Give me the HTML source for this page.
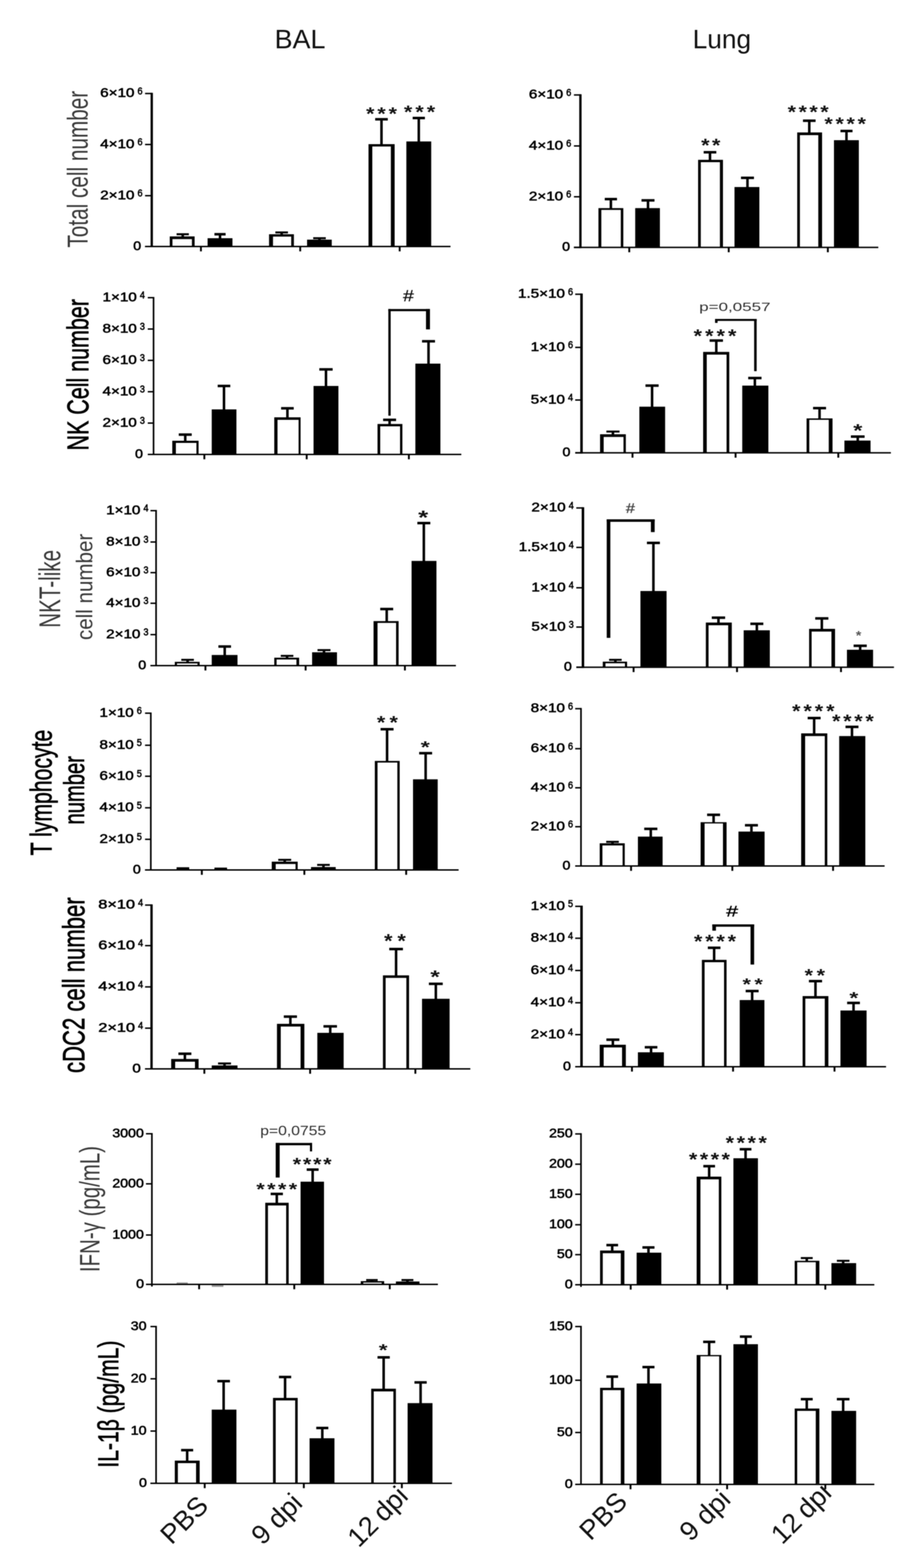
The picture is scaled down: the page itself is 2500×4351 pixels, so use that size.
<!DOCTYPE html>
<html lang="en"><head><meta charset="utf-8"><title>BAL and Lung cell numbers</title>
<style>
html,body{margin:0;padding:0;background:#fff;}
body{width:2500px;height:4351px;overflow:hidden;}
svg{display:block;font-family:'Liberation Sans', sans-serif;filter:blur(1.1px);}
text{white-space:pre;}
</style></head><body>
<svg width="2500" height="4351" viewBox="0 0 2500 4351">
<rect width="2500" height="4351" fill="#fff"/>
<g id="fig">
<text x="762.0" y="134.0" font-size="74.1" font-weight="normal" fill="#111" textLength="141.0" lengthAdjust="spacingAndGlyphs" >BAL</text>
<text x="1922.0" y="134.0" font-size="74.1" font-weight="normal" fill="#111" textLength="162.0" lengthAdjust="spacingAndGlyphs" >Lung</text>
<rect x="490.0" y="647.2" width="34.0" height="5.5" fill="#000"/>
<rect x="503.5" y="650.0" width="7.0" height="7.0" fill="#000"/>
<rect x="471.0" y="656.0" width="69.0" height="28.0" fill="#000"/>
<rect x="478.5" y="663.5" width="54.0" height="20.5" fill="#fff"/>
<rect x="595.0" y="646.5" width="31.0" height="7.0" fill="#000"/>
<rect x="607.0" y="650.0" width="7.0" height="12.0" fill="#000"/>
<rect x="576.0" y="661.0" width="69.0" height="23.0" fill="#000"/>
<rect x="764.0" y="642.2" width="35.0" height="5.5" fill="#000"/>
<rect x="778.0" y="645.0" width="7.0" height="6.0" fill="#000"/>
<rect x="746.5" y="650.0" width="69.0" height="34.0" fill="#000"/>
<rect x="757.5" y="656.5" width="50.5" height="27.5" fill="#fff"/>
<rect x="869.0" y="658.2" width="35.0" height="5.5" fill="#000"/>
<rect x="883.0" y="661.0" width="7.0" height="5.0" fill="#000"/>
<rect x="852.0" y="665.0" width="68.5" height="19.0" fill="#000"/>
<rect x="1041.0" y="327.5" width="35.0" height="7.0" fill="#000"/>
<rect x="1055.0" y="331.0" width="7.0" height="70.0" fill="#000"/>
<rect x="1022.5" y="400.0" width="72.5" height="284.0" fill="#000"/>
<rect x="1033.0" y="406.5" width="51.5" height="277.5" fill="#fff"/>
<rect x="1145.0" y="324.0" width="34.0" height="7.0" fill="#000"/>
<rect x="1158.5" y="327.5" width="7.0" height="66.0" fill="#000"/>
<rect x="1127.5" y="392.5" width="69.0" height="291.5" fill="#000"/>
<rect x="417.8" y="257.5" width="6.5" height="428.5" fill="#000"/>
<rect x="402.5" y="682.0" width="847.5" height="4.0" fill="#000"/>
<rect x="402.5" y="257.5" width="18.5" height="4.0" fill="#000"/>
<text transform="translate(395.5,261.7) scale(0.92,1)" text-anchor="end" font-size="27.5" font-weight="normal" fill="#000" stroke="#000" stroke-width="1.3">6</text>
<text transform="translate(373.1,269.2) scale(1.235,1)" text-anchor="end" font-size="34.2" font-weight="normal" fill="#000" stroke="#000" stroke-width="1.3">6×10</text>
<rect x="402.5" y="399.0" width="18.5" height="4.0" fill="#000"/>
<text transform="translate(395.5,403.2) scale(0.92,1)" text-anchor="end" font-size="27.5" font-weight="normal" fill="#000" stroke="#000" stroke-width="1.3">6</text>
<text transform="translate(373.1,410.7) scale(1.235,1)" text-anchor="end" font-size="34.2" font-weight="normal" fill="#000" stroke="#000" stroke-width="1.3">4×10</text>
<rect x="402.5" y="541.0" width="18.5" height="4.0" fill="#000"/>
<text transform="translate(395.5,545.2) scale(0.92,1)" text-anchor="end" font-size="27.5" font-weight="normal" fill="#000" stroke="#000" stroke-width="1.3">6</text>
<text transform="translate(373.1,552.7) scale(1.235,1)" text-anchor="end" font-size="34.2" font-weight="normal" fill="#000" stroke="#000" stroke-width="1.3">2×10</text>
<rect x="402.5" y="682.0" width="18.5" height="4.0" fill="#000"/>
<text transform="translate(391.6,693.7) scale(1.15,1)" text-anchor="end" font-size="34.2" font-weight="normal" fill="#000" stroke="#000" stroke-width="1.3">0</text>
<rect x="554.9" y="684.0" width="5.2" height="13.5" fill="#000"/>
<rect x="830.4" y="684.0" width="5.2" height="13.5" fill="#000"/>
<rect x="1106.4" y="684.0" width="5.2" height="13.5" fill="#000"/>
<text transform="scale(1.201,1)" x="845.78 871.79 897.80" y="333.2" font-size="49.7" font-weight="bold" fill="#111">***</text>
<text transform="scale(1.201,1)" x="933.18 959.61 986.05" y="328.2" font-size="49.7" font-weight="bold" fill="#111">***</text>
<text transform="translate(242.5,687.0) rotate(-90) scale(1,1.410)" font-size="56.7" font-weight="normal" fill="#3a3a3a" textLength="435.0" lengthAdjust="spacingAndGlyphs">Total cell number</text>
<rect x="496.0" y="1202.5" width="36.0" height="7.0" fill="#000"/>
<rect x="510.5" y="1206.0" width="7.0" height="18.0" fill="#000"/>
<rect x="478.0" y="1223.0" width="73.0" height="38.0" fill="#000"/>
<rect x="488.0" y="1229.0" width="57.0" height="32.0" fill="#fff"/>
<rect x="604.0" y="1067.5" width="35.0" height="7.0" fill="#000"/>
<rect x="618.0" y="1071.0" width="7.0" height="66.0" fill="#000"/>
<rect x="587.5" y="1136.0" width="68.5" height="125.0" fill="#000"/>
<rect x="780.0" y="1129.5" width="35.0" height="7.0" fill="#000"/>
<rect x="794.0" y="1133.0" width="7.0" height="26.0" fill="#000"/>
<rect x="761.0" y="1158.0" width="73.0" height="103.0" fill="#000"/>
<rect x="770.0" y="1165.0" width="58.5" height="96.0" fill="#fff"/>
<rect x="886.0" y="1021.5" width="37.0" height="7.0" fill="#000"/>
<rect x="901.0" y="1025.0" width="7.0" height="47.0" fill="#000"/>
<rect x="870.0" y="1071.0" width="69.0" height="190.0" fill="#000"/>
<rect x="1063.0" y="1161.5" width="36.0" height="7.0" fill="#000"/>
<rect x="1077.5" y="1165.0" width="7.0" height="12.5" fill="#000"/>
<rect x="1047.5" y="1176.5" width="69.0" height="84.5" fill="#000"/>
<rect x="1055.0" y="1183.0" width="55.0" height="78.0" fill="#fff"/>
<rect x="1171.0" y="943.5" width="36.0" height="7.0" fill="#000"/>
<rect x="1185.5" y="947.0" width="7.0" height="63.0" fill="#000"/>
<rect x="1152.5" y="1009.0" width="69.5" height="252.0" fill="#000"/>
<rect x="423.8" y="824.0" width="4.5" height="439.0" fill="#000"/>
<rect x="410.0" y="1259.0" width="870.0" height="4.0" fill="#000"/>
<rect x="410.0" y="824.0" width="16.0" height="4.0" fill="#000"/>
<text transform="translate(402.0,828.2) scale(0.92,1)" text-anchor="end" font-size="27.5" font-weight="normal" fill="#000" stroke="#000" stroke-width="1.3">4</text>
<text transform="translate(379.6,835.7) scale(1.235,1)" text-anchor="end" font-size="34.2" font-weight="normal" fill="#000" stroke="#000" stroke-width="1.3">1×10</text>
<rect x="410.0" y="911.0" width="16.0" height="4.0" fill="#000"/>
<text transform="translate(402.0,915.2) scale(0.92,1)" text-anchor="end" font-size="27.5" font-weight="normal" fill="#000" stroke="#000" stroke-width="1.3">3</text>
<text transform="translate(379.6,922.7) scale(1.235,1)" text-anchor="end" font-size="34.2" font-weight="normal" fill="#000" stroke="#000" stroke-width="1.3">8×10</text>
<rect x="410.0" y="998.0" width="16.0" height="4.0" fill="#000"/>
<text transform="translate(402.0,1002.2) scale(0.92,1)" text-anchor="end" font-size="27.5" font-weight="normal" fill="#000" stroke="#000" stroke-width="1.3">3</text>
<text transform="translate(379.6,1009.7) scale(1.235,1)" text-anchor="end" font-size="34.2" font-weight="normal" fill="#000" stroke="#000" stroke-width="1.3">6×10</text>
<rect x="410.0" y="1085.0" width="16.0" height="4.0" fill="#000"/>
<text transform="translate(402.0,1089.2) scale(0.92,1)" text-anchor="end" font-size="27.5" font-weight="normal" fill="#000" stroke="#000" stroke-width="1.3">3</text>
<text transform="translate(379.6,1096.7) scale(1.235,1)" text-anchor="end" font-size="34.2" font-weight="normal" fill="#000" stroke="#000" stroke-width="1.3">4×10</text>
<rect x="410.0" y="1172.0" width="16.0" height="4.0" fill="#000"/>
<text transform="translate(402.0,1176.2) scale(0.92,1)" text-anchor="end" font-size="27.5" font-weight="normal" fill="#000" stroke="#000" stroke-width="1.3">3</text>
<text transform="translate(379.6,1183.7) scale(1.235,1)" text-anchor="end" font-size="34.2" font-weight="normal" fill="#000" stroke="#000" stroke-width="1.3">2×10</text>
<rect x="410.0" y="1259.0" width="16.0" height="4.0" fill="#000"/>
<text transform="translate(396.6,1270.7) scale(1.15,1)" text-anchor="end" font-size="34.2" font-weight="normal" fill="#000" stroke="#000" stroke-width="1.3">0</text>
<rect x="564.4" y="1261.0" width="5.2" height="13.5" fill="#000"/>
<rect x="848.4" y="1261.0" width="5.2" height="13.5" fill="#000"/>
<rect x="1131.9" y="1261.0" width="5.2" height="13.5" fill="#000"/>
<rect x="1077.5" y="857.5" width="6.5" height="296.0" fill="#000"/>
<rect x="1077.5" y="857.5" width="115.5" height="6.0" fill="#000"/>
<rect x="1182.0" y="857.5" width="11.0" height="56.5" fill="#000"/>
<text x="1117.5" y="836.0" font-size="43.6" font-weight="normal" fill="#111" textLength="30.0" lengthAdjust="spacingAndGlyphs" font-style="italic" stroke="#111" stroke-width="0.6">#</text>
<text transform="translate(245.0,1250.0) rotate(-90) scale(1,1.404)" font-size="59.5" font-weight="normal" fill="#000" stroke="#000" stroke-width="1.2" textLength="420.0" lengthAdjust="spacingAndGlyphs">NK Cell number</text>
<rect x="503.0" y="1828.2" width="35.0" height="5.5" fill="#000"/>
<rect x="517.0" y="1831.0" width="7.0" height="6.5" fill="#000"/>
<rect x="485.0" y="1836.5" width="69.0" height="10.5" fill="#000"/>
<rect x="491.0" y="1841.0" width="57.0" height="6.0" fill="#fff"/>
<rect x="606.0" y="1790.5" width="35.0" height="7.0" fill="#000"/>
<rect x="620.0" y="1794.0" width="7.0" height="24.5" fill="#000"/>
<rect x="587.5" y="1817.5" width="71.5" height="29.5" fill="#000"/>
<rect x="779.0" y="1817.2" width="35.0" height="5.5" fill="#000"/>
<rect x="793.0" y="1820.0" width="7.0" height="6.0" fill="#000"/>
<rect x="761.0" y="1825.0" width="69.0" height="22.0" fill="#000"/>
<rect x="767.5" y="1830.0" width="55.0" height="17.0" fill="#fff"/>
<rect x="881.0" y="1801.2" width="36.0" height="5.5" fill="#000"/>
<rect x="895.5" y="1804.0" width="7.0" height="7.0" fill="#000"/>
<rect x="866.0" y="1810.0" width="69.0" height="37.0" fill="#000"/>
<rect x="1055.0" y="1686.5" width="36.0" height="7.0" fill="#000"/>
<rect x="1069.5" y="1690.0" width="7.0" height="34.5" fill="#000"/>
<rect x="1036.5" y="1723.5" width="69.5" height="123.5" fill="#000"/>
<rect x="1047.5" y="1728.5" width="51.5" height="118.5" fill="#fff"/>
<rect x="1158.0" y="1448.0" width="36.0" height="7.0" fill="#000"/>
<rect x="1172.5" y="1451.5" width="7.0" height="106.0" fill="#000"/>
<rect x="1142.0" y="1556.5" width="69.0" height="290.5" fill="#000"/>
<rect x="430.8" y="1415.0" width="4.5" height="434.0" fill="#000"/>
<rect x="417.5" y="1845.0" width="847.5" height="4.0" fill="#000"/>
<rect x="417.5" y="1415.0" width="15.5" height="4.0" fill="#000"/>
<text transform="translate(412.0,1419.2) scale(0.92,1)" text-anchor="end" font-size="27.5" font-weight="normal" fill="#000" stroke="#000" stroke-width="1.3">4</text>
<text transform="translate(389.6,1426.7) scale(1.235,1)" text-anchor="end" font-size="34.2" font-weight="normal" fill="#000" stroke="#000" stroke-width="1.3">1×10</text>
<rect x="417.5" y="1502.0" width="15.5" height="4.0" fill="#000"/>
<text transform="translate(412.0,1506.2) scale(0.92,1)" text-anchor="end" font-size="27.5" font-weight="normal" fill="#000" stroke="#000" stroke-width="1.3">3</text>
<text transform="translate(389.6,1513.7) scale(1.235,1)" text-anchor="end" font-size="34.2" font-weight="normal" fill="#000" stroke="#000" stroke-width="1.3">8×10</text>
<rect x="417.5" y="1587.0" width="15.5" height="4.0" fill="#000"/>
<text transform="translate(412.0,1591.2) scale(0.92,1)" text-anchor="end" font-size="27.5" font-weight="normal" fill="#000" stroke="#000" stroke-width="1.3">3</text>
<text transform="translate(389.6,1598.7) scale(1.235,1)" text-anchor="end" font-size="34.2" font-weight="normal" fill="#000" stroke="#000" stroke-width="1.3">6×10</text>
<rect x="417.5" y="1672.0" width="15.5" height="4.0" fill="#000"/>
<text transform="translate(412.0,1676.2) scale(0.92,1)" text-anchor="end" font-size="27.5" font-weight="normal" fill="#000" stroke="#000" stroke-width="1.3">3</text>
<text transform="translate(389.6,1683.7) scale(1.235,1)" text-anchor="end" font-size="34.2" font-weight="normal" fill="#000" stroke="#000" stroke-width="1.3">4×10</text>
<rect x="417.5" y="1759.0" width="15.5" height="4.0" fill="#000"/>
<text transform="translate(412.0,1763.2) scale(0.92,1)" text-anchor="end" font-size="27.5" font-weight="normal" fill="#000" stroke="#000" stroke-width="1.3">3</text>
<text transform="translate(389.6,1770.7) scale(1.235,1)" text-anchor="end" font-size="34.2" font-weight="normal" fill="#000" stroke="#000" stroke-width="1.3">2×10</text>
<rect x="417.5" y="1845.0" width="15.5" height="4.0" fill="#000"/>
<text transform="translate(405.6,1856.7) scale(1.15,1)" text-anchor="end" font-size="34.2" font-weight="normal" fill="#000" stroke="#000" stroke-width="1.3">0</text>
<rect x="567.4" y="1847.0" width="5.2" height="13.5" fill="#000"/>
<rect x="845.4" y="1847.0" width="5.2" height="13.5" fill="#000"/>
<rect x="1120.9" y="1847.0" width="5.2" height="13.5" fill="#000"/>
<text transform="scale(1.329,1)" x="873.12" y="1454.5" font-size="53.8" font-weight="bold" fill="#111">*</text>
<text transform="translate(167.0,1742.0) rotate(-90) scale(1,1.470)" font-size="56.3" font-weight="normal" fill="#3a3a3a" textLength="216.0" lengthAdjust="spacingAndGlyphs">NKT-like</text>
<text transform="translate(256.0,1776.0) rotate(-90) scale(1,1.095)" font-size="57.1" font-weight="normal" fill="#3a3a3a" textLength="295.0" lengthAdjust="spacingAndGlyphs">cell number</text>
<rect x="490.0" y="2406.5" width="35.0" height="7.0" fill="#000"/>
<rect x="595.0" y="2407.5" width="35.0" height="7.0" fill="#000"/>
<rect x="772.0" y="2383.2" width="36.0" height="5.5" fill="#000"/>
<rect x="786.5" y="2386.0" width="7.0" height="6.0" fill="#000"/>
<rect x="754.0" y="2391.0" width="72.0" height="23.0" fill="#000"/>
<rect x="765.0" y="2397.5" width="55.0" height="16.5" fill="#fff"/>
<rect x="880.0" y="2397.2" width="35.0" height="5.5" fill="#000"/>
<rect x="894.0" y="2400.0" width="7.0" height="7.0" fill="#000"/>
<rect x="863.0" y="2406.0" width="68.5" height="8.0" fill="#000"/>
<rect x="1056.0" y="2020.0" width="36.0" height="7.0" fill="#000"/>
<rect x="1070.5" y="2023.5" width="7.0" height="89.0" fill="#000"/>
<rect x="1040.0" y="2111.5" width="69.0" height="302.5" fill="#000"/>
<rect x="1047.5" y="2116.0" width="55.0" height="298.0" fill="#fff"/>
<rect x="1163.0" y="2086.5" width="36.0" height="7.0" fill="#000"/>
<rect x="1177.5" y="2090.0" width="7.0" height="73.5" fill="#000"/>
<rect x="1146.0" y="2162.5" width="68.5" height="251.5" fill="#000"/>
<rect x="416.2" y="1977.0" width="4.5" height="439.0" fill="#000"/>
<rect x="402.5" y="2412.0" width="870.0" height="4.0" fill="#000"/>
<rect x="402.5" y="1977.0" width="16.0" height="4.0" fill="#000"/>
<text transform="translate(393.5,1981.2) scale(0.92,1)" text-anchor="end" font-size="27.5" font-weight="normal" fill="#000" stroke="#000" stroke-width="1.3">6</text>
<text transform="translate(371.1,1988.7) scale(1.235,1)" text-anchor="end" font-size="34.2" font-weight="normal" fill="#000" stroke="#000" stroke-width="1.3">1×10</text>
<rect x="402.5" y="2066.0" width="16.0" height="4.0" fill="#000"/>
<text transform="translate(393.5,2070.2) scale(0.92,1)" text-anchor="end" font-size="27.5" font-weight="normal" fill="#000" stroke="#000" stroke-width="1.3">5</text>
<text transform="translate(371.1,2077.7) scale(1.235,1)" text-anchor="end" font-size="34.2" font-weight="normal" fill="#000" stroke="#000" stroke-width="1.3">8×10</text>
<rect x="402.5" y="2152.0" width="16.0" height="4.0" fill="#000"/>
<text transform="translate(393.5,2156.2) scale(0.92,1)" text-anchor="end" font-size="27.5" font-weight="normal" fill="#000" stroke="#000" stroke-width="1.3">5</text>
<text transform="translate(371.1,2163.7) scale(1.235,1)" text-anchor="end" font-size="34.2" font-weight="normal" fill="#000" stroke="#000" stroke-width="1.3">6×10</text>
<rect x="402.5" y="2239.5" width="16.0" height="4.0" fill="#000"/>
<text transform="translate(393.5,2243.7) scale(0.92,1)" text-anchor="end" font-size="27.5" font-weight="normal" fill="#000" stroke="#000" stroke-width="1.3">5</text>
<text transform="translate(371.1,2251.2) scale(1.235,1)" text-anchor="end" font-size="34.2" font-weight="normal" fill="#000" stroke="#000" stroke-width="1.3">4×10</text>
<rect x="402.5" y="2327.0" width="16.0" height="4.0" fill="#000"/>
<text transform="translate(393.5,2331.2) scale(0.92,1)" text-anchor="end" font-size="27.5" font-weight="normal" fill="#000" stroke="#000" stroke-width="1.3">5</text>
<text transform="translate(371.1,2338.7) scale(1.235,1)" text-anchor="end" font-size="34.2" font-weight="normal" fill="#000" stroke="#000" stroke-width="1.3">2×10</text>
<rect x="402.5" y="2412.0" width="16.0" height="4.0" fill="#000"/>
<text transform="translate(390.6,2423.7) scale(1.15,1)" text-anchor="end" font-size="34.2" font-weight="normal" fill="#000" stroke="#000" stroke-width="1.3">0</text>
<rect x="557.4" y="2414.0" width="5.2" height="13.5" fill="#000"/>
<rect x="841.9" y="2414.0" width="5.2" height="13.5" fill="#000"/>
<rect x="1124.4" y="2414.0" width="5.2" height="13.5" fill="#000"/>
<text transform="scale(1.201,1)" x="870.75 899.89" y="2021.7" font-size="49.7" font-weight="bold" fill="#111">**</text>
<text transform="scale(1.380,1)" x="845.81" y="2088.9" font-size="47.0" font-weight="bold" fill="#111">*</text>
<text transform="translate(143.0,2373.5) rotate(-90) scale(1,1.438)" font-size="58.6" font-weight="normal" fill="#000" stroke="#000" stroke-width="1.2" textLength="348.5" lengthAdjust="spacingAndGlyphs">T lymphocyte</text>
<text transform="translate(233.0,2288.0) rotate(-90) scale(1,1.427)" font-size="56.0" font-weight="normal" fill="#000" stroke="#000" stroke-width="1.2" textLength="190.0" lengthAdjust="spacingAndGlyphs">number</text>
<rect x="495.0" y="2920.5" width="36.0" height="7.0" fill="#000"/>
<rect x="509.5" y="2924.0" width="7.0" height="15.5" fill="#000"/>
<rect x="475.0" y="2938.5" width="76.0" height="27.5" fill="#000"/>
<rect x="486.0" y="2946.0" width="55.0" height="20.0" fill="#fff"/>
<rect x="605.0" y="2948.2" width="36.0" height="5.5" fill="#000"/>
<rect x="619.5" y="2951.0" width="7.0" height="6.5" fill="#000"/>
<rect x="587.5" y="2956.5" width="71.5" height="9.5" fill="#000"/>
<rect x="787.5" y="2817.5" width="36.5" height="7.0" fill="#000"/>
<rect x="802.2" y="2821.0" width="7.0" height="21.0" fill="#000"/>
<rect x="768.5" y="2841.0" width="76.0" height="125.0" fill="#000"/>
<rect x="779.0" y="2848.5" width="55.0" height="117.5" fill="#fff"/>
<rect x="897.5" y="2844.5" width="37.5" height="7.0" fill="#000"/>
<rect x="912.8" y="2848.0" width="7.0" height="19.0" fill="#000"/>
<rect x="880.5" y="2866.0" width="73.0" height="100.0" fill="#000"/>
<rect x="1080.0" y="2630.0" width="38.0" height="7.0" fill="#000"/>
<rect x="1095.5" y="2633.5" width="7.0" height="74.0" fill="#000"/>
<rect x="1062.5" y="2706.5" width="72.5" height="259.5" fill="#000"/>
<rect x="1070.0" y="2713.5" width="57.5" height="252.5" fill="#fff"/>
<rect x="1190.0" y="2726.5" width="38.5" height="7.0" fill="#000"/>
<rect x="1205.8" y="2730.0" width="7.0" height="42.5" fill="#000"/>
<rect x="1171.0" y="2771.5" width="76.5" height="194.5" fill="#000"/>
<rect x="417.2" y="2509.5" width="6.5" height="458.5" fill="#000"/>
<rect x="402.5" y="2964.0" width="902.5" height="4.0" fill="#000"/>
<rect x="402.5" y="2509.5" width="18.0" height="4.0" fill="#000"/>
<text transform="translate(397.0,2513.7) scale(0.92,1)" text-anchor="end" font-size="27.5" font-weight="normal" fill="#000" stroke="#000" stroke-width="1.3">4</text>
<text transform="translate(374.6,2521.2) scale(1.3214500000000002,1)" text-anchor="end" font-size="34.2" font-weight="normal" fill="#000" stroke="#000" stroke-width="1.3">8×10</text>
<rect x="402.5" y="2622.0" width="18.0" height="4.0" fill="#000"/>
<text transform="translate(397.0,2626.2) scale(0.92,1)" text-anchor="end" font-size="27.5" font-weight="normal" fill="#000" stroke="#000" stroke-width="1.3">4</text>
<text transform="translate(374.6,2633.7) scale(1.3214500000000002,1)" text-anchor="end" font-size="34.2" font-weight="normal" fill="#000" stroke="#000" stroke-width="1.3">6×10</text>
<rect x="402.5" y="2736.5" width="18.0" height="4.0" fill="#000"/>
<text transform="translate(397.0,2740.7) scale(0.92,1)" text-anchor="end" font-size="27.5" font-weight="normal" fill="#000" stroke="#000" stroke-width="1.3">4</text>
<text transform="translate(374.6,2748.2) scale(1.3214500000000002,1)" text-anchor="end" font-size="34.2" font-weight="normal" fill="#000" stroke="#000" stroke-width="1.3">4×10</text>
<rect x="402.5" y="2851.0" width="18.0" height="4.0" fill="#000"/>
<text transform="translate(397.0,2855.2) scale(0.92,1)" text-anchor="end" font-size="27.5" font-weight="normal" fill="#000" stroke="#000" stroke-width="1.3">4</text>
<text transform="translate(374.6,2862.7) scale(1.3214500000000002,1)" text-anchor="end" font-size="34.2" font-weight="normal" fill="#000" stroke="#000" stroke-width="1.3">2×10</text>
<rect x="402.5" y="2964.0" width="18.0" height="4.0" fill="#000"/>
<text transform="translate(390.6,2975.7) scale(1.2305,1)" text-anchor="end" font-size="34.2" font-weight="normal" fill="#000" stroke="#000" stroke-width="1.3">0</text>
<rect x="564.4" y="2966.0" width="5.2" height="13.5" fill="#000"/>
<rect x="857.9" y="2966.0" width="5.2" height="13.5" fill="#000"/>
<rect x="1149.9" y="2966.0" width="5.2" height="13.5" fill="#000"/>
<text transform="scale(1.111,1)" x="959.35 992.65" y="2629.5" font-size="53.8" font-weight="bold" fill="#111">**</text>
<text transform="scale(1.358,1)" x="879.27" y="2728.2" font-size="49.7" font-weight="bold" fill="#111">*</text>
<text transform="translate(234.0,2977.5) rotate(-90) scale(1,1.398)" font-size="61.3" font-weight="normal" fill="#000" stroke="#000" stroke-width="1.2" textLength="487.5" lengthAdjust="spacingAndGlyphs">cDC2 cell number</text>
<rect x="490.0" y="3558.5" width="31.0" height="7.0" fill="#999"/>
<rect x="587.5" y="3564.0" width="32.5" height="7.0" fill="#999"/>
<rect x="751.0" y="3309.5" width="34.0" height="7.0" fill="#000"/>
<rect x="764.5" y="3313.0" width="7.0" height="25.5" fill="#000"/>
<rect x="736.0" y="3337.5" width="65.0" height="226.5" fill="#000"/>
<rect x="743.5" y="3345.0" width="50.5" height="219.0" fill="#fff"/>
<rect x="851.0" y="3242.0" width="33.0" height="7.0" fill="#000"/>
<rect x="864.0" y="3245.5" width="7.0" height="34.5" fill="#000"/>
<rect x="834.0" y="3279.0" width="65.0" height="285.0" fill="#000"/>
<rect x="1016.0" y="3549.2" width="32.0" height="5.5" fill="#000"/>
<rect x="1028.5" y="3552.0" width="7.0" height="4.0" fill="#000"/>
<rect x="1001.0" y="3555.0" width="65.0" height="9.0" fill="#000"/>
<rect x="1008.0" y="3559.0" width="51.0" height="5.0" fill="#fff"/>
<rect x="1114.0" y="3549.2" width="33.0" height="5.5" fill="#000"/>
<rect x="1127.0" y="3552.0" width="7.0" height="5.0" fill="#000"/>
<rect x="1098.5" y="3556.0" width="65.5" height="8.0" fill="#000"/>
<rect x="419.2" y="3144.0" width="4.5" height="426.0" fill="#000"/>
<rect x="405.0" y="3562.0" width="810.0" height="4.0" fill="#000"/>
<rect x="405.0" y="3144.0" width="16.5" height="4.0" fill="#000"/>
<text transform="translate(399.1,3155.7) scale(1.15,1)" text-anchor="end" font-size="34.2" font-weight="normal" fill="#000" stroke="#000" stroke-width="1.3">3000</text>
<rect x="405.0" y="3283.0" width="16.5" height="4.0" fill="#000"/>
<text transform="translate(399.1,3294.7) scale(1.15,1)" text-anchor="end" font-size="34.2" font-weight="normal" fill="#000" stroke="#000" stroke-width="1.3">2000</text>
<rect x="405.0" y="3425.0" width="16.5" height="4.0" fill="#000"/>
<text transform="translate(399.1,3436.7) scale(1.15,1)" text-anchor="end" font-size="34.2" font-weight="normal" fill="#000" stroke="#000" stroke-width="1.3">1000</text>
<rect x="405.0" y="3562.0" width="16.5" height="4.0" fill="#000"/>
<text transform="translate(399.6,3573.7) scale(1.15,1)" text-anchor="end" font-size="34.2" font-weight="normal" fill="#000" stroke="#000" stroke-width="1.3">0</text>
<rect x="549.9" y="3564.0" width="5.2" height="13.5" fill="#000"/>
<rect x="813.9" y="3564.0" width="5.2" height="13.5" fill="#000"/>
<rect x="1078.9" y="3564.0" width="5.2" height="13.5" fill="#000"/>
<text transform="scale(1.235,1)" x="575.88 600.18 624.48 648.78" y="3315.8" font-size="48.4" font-weight="bold" fill="#111">****</text>
<text transform="scale(1.201,1)" x="676.37 699.82 723.27 746.71" y="3248.2" font-size="49.7" font-weight="bold" fill="#111">****</text>
<rect x="765.0" y="3171.5" width="11.0" height="96.0" fill="#000"/>
<rect x="765.0" y="3171.5" width="101.0" height="6.5" fill="#000"/>
<rect x="860.0" y="3171.5" width="6.0" height="23.5" fill="#000"/>
<text x="722.0" y="3150.0" font-size="36.3" font-weight="normal" fill="#333" textLength="183.0" lengthAdjust="spacingAndGlyphs" >p=0,0755</text>
<text transform="translate(276.0,3530.0) rotate(-90) scale(1,1.370)" font-size="56.8" font-weight="normal" fill="#3a3a3a" textLength="350.0" lengthAdjust="spacingAndGlyphs">IFN-γ (pg/mL)</text>
<rect x="502.5" y="4020.5" width="33.5" height="7.0" fill="#000"/>
<rect x="515.8" y="4024.0" width="7.0" height="30.0" fill="#000"/>
<rect x="485.0" y="4053.0" width="69.0" height="63.0" fill="#000"/>
<rect x="493.5" y="4060.0" width="50.5" height="56.0" fill="#fff"/>
<rect x="603.0" y="3829.0" width="35.0" height="7.0" fill="#000"/>
<rect x="617.0" y="3832.5" width="7.0" height="80.0" fill="#000"/>
<rect x="587.5" y="3911.5" width="68.5" height="204.5" fill="#000"/>
<rect x="774.0" y="3817.5" width="34.0" height="7.0" fill="#000"/>
<rect x="787.5" y="3821.0" width="7.0" height="59.0" fill="#000"/>
<rect x="757.5" y="3879.0" width="68.5" height="237.0" fill="#000"/>
<rect x="765.0" y="3886.0" width="54.0" height="230.0" fill="#fff"/>
<rect x="877.5" y="3959.0" width="33.5" height="7.0" fill="#000"/>
<rect x="890.8" y="3962.5" width="7.0" height="29.5" fill="#000"/>
<rect x="859.0" y="3991.0" width="69.0" height="125.0" fill="#000"/>
<rect x="1047.5" y="3763.0" width="34.0" height="7.0" fill="#000"/>
<rect x="1061.0" y="3766.5" width="7.0" height="88.0" fill="#000"/>
<rect x="1030.0" y="3853.5" width="68.5" height="262.5" fill="#000"/>
<rect x="1037.0" y="3861.0" width="54.5" height="255.0" fill="#fff"/>
<rect x="1150.0" y="3832.5" width="34.0" height="7.0" fill="#000"/>
<rect x="1163.5" y="3836.0" width="7.0" height="58.5" fill="#000"/>
<rect x="1131.0" y="3893.5" width="69.0" height="222.5" fill="#000"/>
<rect x="430.8" y="3679.0" width="4.5" height="439.0" fill="#000"/>
<rect x="417.5" y="4114.0" width="836.5" height="4.0" fill="#000"/>
<rect x="417.5" y="3679.0" width="15.5" height="4.0" fill="#000"/>
<text transform="translate(406.6,3690.7) scale(1.15,1)" text-anchor="end" font-size="34.2" font-weight="normal" fill="#000" stroke="#000" stroke-width="1.3">30</text>
<rect x="417.5" y="3824.0" width="15.5" height="4.0" fill="#000"/>
<text transform="translate(406.6,3835.7) scale(1.15,1)" text-anchor="end" font-size="34.2" font-weight="normal" fill="#000" stroke="#000" stroke-width="1.3">20</text>
<rect x="417.5" y="3969.0" width="15.5" height="4.0" fill="#000"/>
<text transform="translate(406.6,3980.7) scale(1.15,1)" text-anchor="end" font-size="34.2" font-weight="normal" fill="#000" stroke="#000" stroke-width="1.3">10</text>
<rect x="417.5" y="4114.0" width="15.5" height="4.0" fill="#000"/>
<text transform="translate(407.6,4125.7) scale(1.15,1)" text-anchor="end" font-size="34.2" font-weight="normal" fill="#000" stroke="#000" stroke-width="1.3">0</text>
<rect x="565.4" y="4116.0" width="5.2" height="13.5" fill="#000"/>
<rect x="840.4" y="4116.0" width="5.2" height="13.5" fill="#000"/>
<rect x="1112.4" y="4116.0" width="5.2" height="13.5" fill="#000"/>
<text transform="scale(1.325,1)" x="793.14" y="3762.4" font-size="47.0" font-weight="bold" fill="#111">*</text>
<text transform="translate(327.5,4072.5) rotate(-90) scale(1,1.366)" font-size="58.5" font-weight="normal" fill="#000" stroke="#000" stroke-width="1.2" textLength="352.5" lengthAdjust="spacingAndGlyphs">IL-1β (pg/mL)</text>
<rect x="1678.0" y="549.0" width="34.0" height="7.0" fill="#000"/>
<rect x="1691.5" y="552.5" width="7.0" height="26.0" fill="#000"/>
<rect x="1660.5" y="577.5" width="69.0" height="109.0" fill="#000"/>
<rect x="1668.5" y="582.5" width="54.0" height="104.0" fill="#fff"/>
<rect x="1780.0" y="552.5" width="36.0" height="7.0" fill="#000"/>
<rect x="1794.5" y="556.0" width="7.0" height="22.5" fill="#000"/>
<rect x="1762.5" y="577.5" width="68.5" height="109.0" fill="#000"/>
<rect x="1952.5" y="419.0" width="35.0" height="7.0" fill="#000"/>
<rect x="1966.5" y="422.5" width="7.0" height="22.0" fill="#000"/>
<rect x="1937.0" y="443.5" width="69.0" height="243.0" fill="#000"/>
<rect x="1944.5" y="450.0" width="53.0" height="236.5" fill="#fff"/>
<rect x="2056.0" y="490.0" width="36.0" height="7.0" fill="#000"/>
<rect x="2070.5" y="493.5" width="7.0" height="26.5" fill="#000"/>
<rect x="2038.0" y="519.0" width="69.0" height="167.5" fill="#000"/>
<rect x="2228.0" y="331.5" width="35.0" height="7.0" fill="#000"/>
<rect x="2242.0" y="335.0" width="7.0" height="33.5" fill="#000"/>
<rect x="2212.0" y="367.5" width="69.0" height="319.0" fill="#000"/>
<rect x="2219.5" y="375.0" width="51.0" height="311.5" fill="#fff"/>
<rect x="2332.0" y="360.0" width="33.5" height="7.0" fill="#000"/>
<rect x="2345.2" y="363.5" width="7.0" height="26.5" fill="#000"/>
<rect x="2314.0" y="389.0" width="69.0" height="297.5" fill="#000"/>
<rect x="1607.2" y="261.5" width="6.5" height="427.0" fill="#000"/>
<rect x="1592.5" y="684.5" width="844.5" height="4.0" fill="#000"/>
<rect x="1592.5" y="261.5" width="18.0" height="4.0" fill="#000"/>
<text transform="translate(1585.0,265.7) scale(0.92,1)" text-anchor="end" font-size="27.5" font-weight="normal" fill="#000" stroke="#000" stroke-width="1.3">6</text>
<text transform="translate(1562.6,273.2) scale(1.235,1)" text-anchor="end" font-size="34.2" font-weight="normal" fill="#000" stroke="#000" stroke-width="1.3">6×10</text>
<rect x="1592.5" y="403.0" width="18.0" height="4.0" fill="#000"/>
<text transform="translate(1585.0,407.2) scale(0.92,1)" text-anchor="end" font-size="27.5" font-weight="normal" fill="#000" stroke="#000" stroke-width="1.3">6</text>
<text transform="translate(1562.6,414.7) scale(1.235,1)" text-anchor="end" font-size="34.2" font-weight="normal" fill="#000" stroke="#000" stroke-width="1.3">4×10</text>
<rect x="1592.5" y="544.0" width="18.0" height="4.0" fill="#000"/>
<text transform="translate(1585.0,548.2) scale(0.92,1)" text-anchor="end" font-size="27.5" font-weight="normal" fill="#000" stroke="#000" stroke-width="1.3">6</text>
<text transform="translate(1562.6,555.7) scale(1.235,1)" text-anchor="end" font-size="34.2" font-weight="normal" fill="#000" stroke="#000" stroke-width="1.3">2×10</text>
<rect x="1592.5" y="684.5" width="18.0" height="4.0" fill="#000"/>
<text transform="translate(1581.6,696.2) scale(1.15,1)" text-anchor="end" font-size="34.2" font-weight="normal" fill="#000" stroke="#000" stroke-width="1.3">0</text>
<rect x="1743.4" y="686.5" width="5.2" height="13.5" fill="#000"/>
<rect x="2019.4" y="686.5" width="5.2" height="13.5" fill="#000"/>
<rect x="2294.4" y="686.5" width="5.2" height="13.5" fill="#000"/>
<text transform="scale(1.170,1)" x="1662.89 1688.54" y="420.6" font-size="51.1" font-weight="bold" fill="#111">**</text>
<text transform="scale(1.201,1)" x="1819.75 1844.86 1869.98 1895.09" y="328.2" font-size="49.7" font-weight="bold" fill="#111">****</text>
<text transform="scale(1.201,1)" x="1904.66 1930.19 1955.72 1981.25" y="360.7" font-size="49.7" font-weight="bold" fill="#111">****</text>
<rect x="1682.5" y="1194.8" width="36.5" height="5.5" fill="#000"/>
<rect x="1697.2" y="1197.5" width="7.0" height="8.5" fill="#000"/>
<rect x="1665.0" y="1205.0" width="71.5" height="51.5" fill="#000"/>
<rect x="1675.0" y="1212.5" width="55.0" height="44.0" fill="#fff"/>
<rect x="1791.0" y="1066.5" width="36.5" height="7.0" fill="#000"/>
<rect x="1805.8" y="1070.0" width="7.0" height="59.5" fill="#000"/>
<rect x="1774.0" y="1128.5" width="71.5" height="128.0" fill="#000"/>
<rect x="1969.0" y="941.5" width="37.0" height="7.0" fill="#000"/>
<rect x="1984.0" y="945.0" width="7.0" height="32.5" fill="#000"/>
<rect x="1951.0" y="976.5" width="72.5" height="280.0" fill="#000"/>
<rect x="1961.0" y="984.0" width="55.0" height="272.5" fill="#fff"/>
<rect x="2076.0" y="1045.5" width="37.0" height="7.0" fill="#000"/>
<rect x="2091.0" y="1049.0" width="7.0" height="22.0" fill="#000"/>
<rect x="2059.5" y="1070.0" width="72.5" height="186.5" fill="#000"/>
<rect x="2256.0" y="1129.0" width="36.0" height="7.0" fill="#000"/>
<rect x="2270.5" y="1132.5" width="7.0" height="29.5" fill="#000"/>
<rect x="2238.0" y="1161.0" width="72.0" height="95.5" fill="#000"/>
<rect x="2245.5" y="1165.0" width="54.0" height="91.5" fill="#fff"/>
<rect x="2361.0" y="1208.0" width="38.0" height="7.0" fill="#000"/>
<rect x="2376.5" y="1211.5" width="7.0" height="12.0" fill="#000"/>
<rect x="2343.0" y="1222.5" width="72.5" height="34.0" fill="#000"/>
<rect x="1610.0" y="814.5" width="7.0" height="444.0" fill="#000"/>
<rect x="1596.0" y="1254.5" width="876.0" height="4.0" fill="#000"/>
<rect x="1596.0" y="814.5" width="17.5" height="4.0" fill="#000"/>
<text transform="translate(1590.0,818.7) scale(0.92,1)" text-anchor="end" font-size="27.5" font-weight="normal" fill="#000" stroke="#000" stroke-width="1.3">6</text>
<text transform="translate(1567.6,826.2) scale(1.235,1)" text-anchor="end" font-size="34.2" font-weight="normal" fill="#000" stroke="#000" stroke-width="1.3">1.5×10</text>
<rect x="1596.0" y="962.0" width="17.5" height="4.0" fill="#000"/>
<text transform="translate(1590.0,966.2) scale(0.92,1)" text-anchor="end" font-size="27.5" font-weight="normal" fill="#000" stroke="#000" stroke-width="1.3">6</text>
<text transform="translate(1567.6,973.7) scale(1.235,1)" text-anchor="end" font-size="34.2" font-weight="normal" fill="#000" stroke="#000" stroke-width="1.3">1×10</text>
<rect x="1596.0" y="1108.0" width="17.5" height="4.0" fill="#000"/>
<text transform="translate(1590.0,1112.2) scale(0.92,1)" text-anchor="end" font-size="27.5" font-weight="normal" fill="#000" stroke="#000" stroke-width="1.3">4</text>
<text transform="translate(1567.6,1119.7) scale(1.235,1)" text-anchor="end" font-size="34.2" font-weight="normal" fill="#000" stroke="#000" stroke-width="1.3">5×10</text>
<rect x="1596.0" y="1254.5" width="17.5" height="4.0" fill="#000"/>
<text transform="translate(1582.6,1266.2) scale(1.15,1)" text-anchor="end" font-size="34.2" font-weight="normal" fill="#000" stroke="#000" stroke-width="1.3">0</text>
<rect x="1752.4" y="1256.5" width="5.2" height="13.5" fill="#000"/>
<rect x="2038.4" y="1256.5" width="5.2" height="13.5" fill="#000"/>
<rect x="2323.4" y="1256.5" width="5.2" height="13.5" fill="#000"/>
<text transform="scale(1.170,1)" x="1644.93 1672.15 1699.37 1726.58" y="950.1" font-size="51.1" font-weight="bold" fill="#111">****</text>
<text transform="scale(1.306,1)" x="1812.79" y="1211.7" font-size="49.7" font-weight="bold" fill="#111">*</text>
<rect x="1984.0" y="885.0" width="7.0" height="11.0" fill="#000"/>
<rect x="1984.0" y="885.0" width="115.5" height="5.5" fill="#000"/>
<rect x="2092.5" y="885.0" width="7.0" height="145.0" fill="#000"/>
<text x="1940.0" y="862.5" font-size="33.4" font-weight="normal" fill="#333" textLength="198.0" lengthAdjust="spacingAndGlyphs" >p=0,0557</text>
<rect x="1690.0" y="1828.2" width="35.0" height="5.5" fill="#000"/>
<rect x="1704.0" y="1831.0" width="7.0" height="6.0" fill="#000"/>
<rect x="1672.5" y="1836.0" width="67.5" height="15.5" fill="#000"/>
<rect x="1680.0" y="1840.5" width="54.0" height="11.0" fill="#fff"/>
<rect x="1795.0" y="1503.0" width="36.0" height="7.0" fill="#000"/>
<rect x="1809.5" y="1506.5" width="7.0" height="134.5" fill="#000"/>
<rect x="1777.0" y="1640.0" width="72.5" height="211.5" fill="#000"/>
<rect x="1975.0" y="1710.5" width="37.0" height="7.0" fill="#000"/>
<rect x="1990.0" y="1714.0" width="7.0" height="14.5" fill="#000"/>
<rect x="1958.5" y="1727.5" width="72.0" height="124.0" fill="#000"/>
<rect x="1966.0" y="1735.0" width="54.5" height="116.5" fill="#fff"/>
<rect x="2082.0" y="1727.5" width="36.0" height="7.0" fill="#000"/>
<rect x="2096.5" y="1731.0" width="7.0" height="19.0" fill="#000"/>
<rect x="2063.5" y="1749.0" width="72.5" height="102.5" fill="#000"/>
<rect x="2262.0" y="1712.5" width="36.5" height="7.0" fill="#000"/>
<rect x="2276.8" y="1716.0" width="7.0" height="30.0" fill="#000"/>
<rect x="2245.0" y="1745.0" width="72.0" height="106.5" fill="#000"/>
<rect x="2252.0" y="1752.5" width="55.0" height="99.0" fill="#fff"/>
<rect x="2368.5" y="1788.5" width="36.5" height="7.0" fill="#000"/>
<rect x="2383.2" y="1792.0" width="7.0" height="12.0" fill="#000"/>
<rect x="2350.0" y="1803.0" width="72.5" height="48.5" fill="#000"/>
<rect x="1614.0" y="1407.5" width="7.0" height="446.0" fill="#000"/>
<rect x="1599.0" y="1849.5" width="881.5" height="4.0" fill="#000"/>
<rect x="1599.0" y="1407.5" width="18.5" height="4.0" fill="#000"/>
<text transform="translate(1592.0,1411.7) scale(0.92,1)" text-anchor="end" font-size="27.5" font-weight="normal" fill="#000" stroke="#000" stroke-width="1.3">4</text>
<text transform="translate(1569.6,1419.2) scale(1.235,1)" text-anchor="end" font-size="34.2" font-weight="normal" fill="#000" stroke="#000" stroke-width="1.3">2×10</text>
<rect x="1599.0" y="1517.0" width="18.5" height="4.0" fill="#000"/>
<text transform="translate(1592.0,1521.2) scale(0.92,1)" text-anchor="end" font-size="27.5" font-weight="normal" fill="#000" stroke="#000" stroke-width="1.3">4</text>
<text transform="translate(1569.6,1528.7) scale(1.235,1)" text-anchor="end" font-size="34.2" font-weight="normal" fill="#000" stroke="#000" stroke-width="1.3">1.5×10</text>
<rect x="1599.0" y="1629.0" width="18.5" height="4.0" fill="#000"/>
<text transform="translate(1592.0,1633.2) scale(0.92,1)" text-anchor="end" font-size="27.5" font-weight="normal" fill="#000" stroke="#000" stroke-width="1.3">4</text>
<text transform="translate(1569.6,1640.7) scale(1.235,1)" text-anchor="end" font-size="34.2" font-weight="normal" fill="#000" stroke="#000" stroke-width="1.3">1×10</text>
<rect x="1599.0" y="1738.0" width="18.5" height="4.0" fill="#000"/>
<text transform="translate(1592.0,1742.2) scale(0.92,1)" text-anchor="end" font-size="27.5" font-weight="normal" fill="#000" stroke="#000" stroke-width="1.3">3</text>
<text transform="translate(1569.6,1749.7) scale(1.235,1)" text-anchor="end" font-size="34.2" font-weight="normal" fill="#000" stroke="#000" stroke-width="1.3">5×10</text>
<rect x="1599.0" y="1849.5" width="18.5" height="4.0" fill="#000"/>
<text transform="translate(1586.6,1861.2) scale(1.15,1)" text-anchor="end" font-size="34.2" font-weight="normal" fill="#000" stroke="#000" stroke-width="1.3">0</text>
<rect x="1755.4" y="1851.5" width="5.2" height="13.5" fill="#000"/>
<rect x="2042.4" y="1851.5" width="5.2" height="13.5" fill="#000"/>
<rect x="2330.9" y="1851.5" width="5.2" height="13.5" fill="#000"/>
<rect x="1683.5" y="1441.0" width="10.0" height="329.0" fill="#000"/>
<rect x="1683.5" y="1441.0" width="133.0" height="7.0" fill="#000"/>
<rect x="1806.0" y="1441.0" width="10.5" height="35.5" fill="#000"/>
<text x="1736.0" y="1422.5" font-size="37.1" font-weight="normal" fill="#444" textLength="25.0" lengthAdjust="spacingAndGlyphs" font-style="italic" stroke="#444" stroke-width="0.8">#</text>
<text transform="scale(1.115,1)" x="2129.82" y="1775.0" font-size="34.9" font-weight="bold" fill="#555">*</text>
<rect x="1682.0" y="2333.2" width="35.0" height="5.5" fill="#000"/>
<rect x="1696.0" y="2336.0" width="7.0" height="5.0" fill="#000"/>
<rect x="1664.0" y="2340.0" width="69.5" height="63.0" fill="#000"/>
<rect x="1671.5" y="2346.0" width="56.0" height="57.0" fill="#fff"/>
<rect x="1787.5" y="2296.5" width="36.5" height="7.0" fill="#000"/>
<rect x="1802.2" y="2300.0" width="7.0" height="22.5" fill="#000"/>
<rect x="1770.0" y="2321.5" width="68.5" height="81.5" fill="#000"/>
<rect x="1962.0" y="2257.5" width="36.0" height="7.0" fill="#000"/>
<rect x="1976.5" y="2261.0" width="7.0" height="21.5" fill="#000"/>
<rect x="1944.0" y="2281.5" width="72.0" height="121.5" fill="#000"/>
<rect x="1955.0" y="2285.0" width="51.0" height="118.0" fill="#fff"/>
<rect x="2067.0" y="2286.5" width="36.0" height="7.0" fill="#000"/>
<rect x="2081.5" y="2290.0" width="7.0" height="18.5" fill="#000"/>
<rect x="2049.0" y="2307.5" width="72.5" height="95.5" fill="#000"/>
<rect x="2241.0" y="1989.0" width="36.0" height="7.0" fill="#000"/>
<rect x="2255.5" y="1992.5" width="7.0" height="43.5" fill="#000"/>
<rect x="2223.0" y="2035.0" width="72.5" height="368.0" fill="#000"/>
<rect x="2234.0" y="2042.5" width="54.5" height="360.5" fill="#fff"/>
<rect x="2346.0" y="2013.5" width="36.0" height="7.0" fill="#000"/>
<rect x="2360.5" y="2017.0" width="7.0" height="26.5" fill="#000"/>
<rect x="2328.5" y="2042.5" width="72.5" height="360.5" fill="#000"/>
<rect x="1609.8" y="1964.5" width="4.5" height="440.5" fill="#000"/>
<rect x="1596.0" y="2401.0" width="858.5" height="4.0" fill="#000"/>
<rect x="1596.0" y="1964.5" width="16.0" height="4.0" fill="#000"/>
<text transform="translate(1590.0,1968.7) scale(0.92,1)" text-anchor="end" font-size="27.5" font-weight="normal" fill="#000" stroke="#000" stroke-width="1.3">6</text>
<text transform="translate(1567.6,1976.2) scale(1.235,1)" text-anchor="end" font-size="34.2" font-weight="normal" fill="#000" stroke="#000" stroke-width="1.3">8×10</text>
<rect x="1596.0" y="2075.5" width="16.0" height="4.0" fill="#000"/>
<text transform="translate(1590.0,2079.7) scale(0.92,1)" text-anchor="end" font-size="27.5" font-weight="normal" fill="#000" stroke="#000" stroke-width="1.3">6</text>
<text transform="translate(1567.6,2087.2) scale(1.235,1)" text-anchor="end" font-size="34.2" font-weight="normal" fill="#000" stroke="#000" stroke-width="1.3">6×10</text>
<rect x="1596.0" y="2184.0" width="16.0" height="4.0" fill="#000"/>
<text transform="translate(1590.0,2188.2) scale(0.92,1)" text-anchor="end" font-size="27.5" font-weight="normal" fill="#000" stroke="#000" stroke-width="1.3">6</text>
<text transform="translate(1567.6,2195.7) scale(1.235,1)" text-anchor="end" font-size="34.2" font-weight="normal" fill="#000" stroke="#000" stroke-width="1.3">4×10</text>
<rect x="1596.0" y="2292.0" width="16.0" height="4.0" fill="#000"/>
<text transform="translate(1590.0,2296.2) scale(0.92,1)" text-anchor="end" font-size="27.5" font-weight="normal" fill="#000" stroke="#000" stroke-width="1.3">6</text>
<text transform="translate(1567.6,2303.7) scale(1.235,1)" text-anchor="end" font-size="34.2" font-weight="normal" fill="#000" stroke="#000" stroke-width="1.3">2×10</text>
<rect x="1596.0" y="2401.0" width="16.0" height="4.0" fill="#000"/>
<text transform="translate(1582.6,2412.7) scale(1.15,1)" text-anchor="end" font-size="34.2" font-weight="normal" fill="#000" stroke="#000" stroke-width="1.3">0</text>
<rect x="1748.4" y="2403.0" width="5.2" height="13.5" fill="#000"/>
<rect x="2029.4" y="2403.0" width="5.2" height="13.5" fill="#000"/>
<rect x="2308.9" y="2403.0" width="5.2" height="13.5" fill="#000"/>
<text transform="scale(1.170,1)" x="1878.34 1905.27 1932.20 1959.13" y="1991.1" font-size="51.1" font-weight="bold" fill="#111">****</text>
<text transform="scale(1.170,1)" x="1973.24 1999.60 2025.96 2052.32" y="2018.6" font-size="51.1" font-weight="bold" fill="#111">****</text>
<rect x="1682.5" y="2881.5" width="36.0" height="7.0" fill="#000"/>
<rect x="1697.0" y="2885.0" width="7.0" height="15.0" fill="#000"/>
<rect x="1664.0" y="2899.0" width="72.5" height="61.0" fill="#000"/>
<rect x="1675.0" y="2906.5" width="51.0" height="53.5" fill="#fff"/>
<rect x="1789.0" y="2902.5" width="35.0" height="7.0" fill="#000"/>
<rect x="1803.0" y="2906.0" width="7.0" height="15.0" fill="#000"/>
<rect x="1770.0" y="2920.0" width="72.0" height="40.0" fill="#000"/>
<rect x="1964.0" y="2626.5" width="35.0" height="7.0" fill="#000"/>
<rect x="1978.0" y="2630.0" width="7.0" height="34.5" fill="#000"/>
<rect x="1947.5" y="2663.5" width="68.5" height="296.5" fill="#000"/>
<rect x="1955.0" y="2670.0" width="54.0" height="290.0" fill="#fff"/>
<rect x="2069.0" y="2746.5" width="36.0" height="7.0" fill="#000"/>
<rect x="2083.5" y="2750.0" width="7.0" height="26.0" fill="#000"/>
<rect x="2052.5" y="2775.0" width="68.5" height="185.0" fill="#000"/>
<rect x="2244.5" y="2719.0" width="36.5" height="7.0" fill="#000"/>
<rect x="2259.2" y="2722.5" width="7.0" height="42.5" fill="#000"/>
<rect x="2227.0" y="2764.0" width="71.5" height="196.0" fill="#000"/>
<rect x="2234.5" y="2771.0" width="54.0" height="189.0" fill="#fff"/>
<rect x="2350.5" y="2779.5" width="35.5" height="7.0" fill="#000"/>
<rect x="2364.8" y="2783.0" width="7.0" height="22.0" fill="#000"/>
<rect x="2332.0" y="2804.0" width="72.5" height="156.0" fill="#000"/>
<rect x="1610.0" y="2513.0" width="7.0" height="449.0" fill="#000"/>
<rect x="1596.0" y="2958.0" width="862.5" height="4.0" fill="#000"/>
<rect x="1596.0" y="2513.0" width="17.5" height="4.0" fill="#000"/>
<text transform="translate(1590.0,2517.2) scale(0.92,1)" text-anchor="end" font-size="27.5" font-weight="normal" fill="#000" stroke="#000" stroke-width="1.3">5</text>
<text transform="translate(1567.6,2524.7) scale(1.235,1)" text-anchor="end" font-size="34.2" font-weight="normal" fill="#000" stroke="#000" stroke-width="1.3">1×10</text>
<rect x="1596.0" y="2601.5" width="17.5" height="4.0" fill="#000"/>
<text transform="translate(1590.0,2605.7) scale(0.92,1)" text-anchor="end" font-size="27.5" font-weight="normal" fill="#000" stroke="#000" stroke-width="1.3">4</text>
<text transform="translate(1567.6,2613.2) scale(1.235,1)" text-anchor="end" font-size="34.2" font-weight="normal" fill="#000" stroke="#000" stroke-width="1.3">8×10</text>
<rect x="1596.0" y="2691.0" width="17.5" height="4.0" fill="#000"/>
<text transform="translate(1590.0,2695.2) scale(0.92,1)" text-anchor="end" font-size="27.5" font-weight="normal" fill="#000" stroke="#000" stroke-width="1.3">4</text>
<text transform="translate(1567.6,2702.7) scale(1.235,1)" text-anchor="end" font-size="34.2" font-weight="normal" fill="#000" stroke="#000" stroke-width="1.3">6×10</text>
<rect x="1596.0" y="2780.5" width="17.5" height="4.0" fill="#000"/>
<text transform="translate(1590.0,2784.7) scale(0.92,1)" text-anchor="end" font-size="27.5" font-weight="normal" fill="#000" stroke="#000" stroke-width="1.3">4</text>
<text transform="translate(1567.6,2792.2) scale(1.235,1)" text-anchor="end" font-size="34.2" font-weight="normal" fill="#000" stroke="#000" stroke-width="1.3">4×10</text>
<rect x="1596.0" y="2869.0" width="17.5" height="4.0" fill="#000"/>
<text transform="translate(1590.0,2873.2) scale(0.92,1)" text-anchor="end" font-size="27.5" font-weight="normal" fill="#000" stroke="#000" stroke-width="1.3">4</text>
<text transform="translate(1567.6,2880.7) scale(1.235,1)" text-anchor="end" font-size="34.2" font-weight="normal" fill="#000" stroke="#000" stroke-width="1.3">2×10</text>
<rect x="1596.0" y="2958.0" width="17.5" height="4.0" fill="#000"/>
<text transform="translate(1584.1,2969.7) scale(1.15,1)" text-anchor="end" font-size="34.2" font-weight="normal" fill="#000" stroke="#000" stroke-width="1.3">0</text>
<rect x="1750.9" y="2960.0" width="5.2" height="13.5" fill="#000"/>
<rect x="2031.4" y="2960.0" width="5.2" height="13.5" fill="#000"/>
<rect x="2312.9" y="2960.0" width="5.2" height="13.5" fill="#000"/>
<text transform="scale(1.170,1)" x="1645.79 1672.44 1699.08 1725.73" y="2630.1" font-size="51.1" font-weight="bold" fill="#111">****</text>
<text transform="scale(1.270,1)" x="1622.17 1648.15" y="2747.4" font-size="47.0" font-weight="bold" fill="#111">**</text>
<text transform="scale(1.201,1)" x="1858.88 1886.76" y="2724.2" font-size="49.7" font-weight="bold" fill="#111">**</text>
<text transform="scale(1.393,1)" x="1691.90" y="2785.4" font-size="45.7" font-weight="bold" fill="#111">*</text>
<rect x="1976.5" y="2565.0" width="10.0" height="17.5" fill="#000"/>
<rect x="1976.5" y="2565.0" width="116.0" height="6.5" fill="#000"/>
<rect x="2082.5" y="2565.0" width="10.0" height="111.5" fill="#000"/>
<text x="2015.0" y="2542.5" font-size="42.9" font-weight="normal" fill="#000" textLength="33.0" lengthAdjust="spacingAndGlyphs" stroke="#000" stroke-width="0.8">#</text>
<rect x="1682.5" y="3451.5" width="32.5" height="7.0" fill="#000"/>
<rect x="1695.2" y="3455.0" width="7.0" height="16.0" fill="#000"/>
<rect x="1665.0" y="3470.0" width="67.5" height="95.0" fill="#000"/>
<rect x="1672.5" y="3477.5" width="50.0" height="87.5" fill="#fff"/>
<rect x="1782.5" y="3458.0" width="33.5" height="7.0" fill="#000"/>
<rect x="1795.8" y="3461.5" width="7.0" height="15.5" fill="#000"/>
<rect x="1766.5" y="3476.0" width="68.5" height="89.0" fill="#000"/>
<rect x="1951.5" y="3232.5" width="32.5" height="7.0" fill="#000"/>
<rect x="1964.2" y="3236.0" width="7.0" height="30.0" fill="#000"/>
<rect x="1933.0" y="3265.0" width="68.5" height="300.0" fill="#000"/>
<rect x="1943.5" y="3272.5" width="51.0" height="292.5" fill="#fff"/>
<rect x="2052.5" y="3185.5" width="32.5" height="7.0" fill="#000"/>
<rect x="2065.2" y="3189.0" width="7.0" height="26.0" fill="#000"/>
<rect x="2035.0" y="3214.0" width="68.0" height="351.0" fill="#000"/>
<rect x="2222.0" y="3488.2" width="33.0" height="5.5" fill="#000"/>
<rect x="2235.0" y="3491.0" width="7.0" height="8.5" fill="#000"/>
<rect x="2205.0" y="3498.5" width="68.5" height="66.5" fill="#000"/>
<rect x="2212.0" y="3502.5" width="51.5" height="62.5" fill="#fff"/>
<rect x="2322.0" y="3495.8" width="35.0" height="5.5" fill="#000"/>
<rect x="2336.0" y="3498.5" width="7.0" height="7.5" fill="#000"/>
<rect x="2307.0" y="3505.0" width="68.5" height="60.0" fill="#000"/>
<rect x="1609.8" y="3144.5" width="4.5" height="426.5" fill="#000"/>
<rect x="1596.0" y="3563.0" width="830.0" height="4.0" fill="#000"/>
<rect x="1596.0" y="3144.5" width="16.0" height="4.0" fill="#000"/>
<text transform="translate(1589.1,3156.2) scale(1.15,1)" text-anchor="end" font-size="34.2" font-weight="normal" fill="#000" stroke="#000" stroke-width="1.3">250</text>
<rect x="1596.0" y="3228.5" width="16.0" height="4.0" fill="#000"/>
<text transform="translate(1589.1,3240.2) scale(1.15,1)" text-anchor="end" font-size="34.2" font-weight="normal" fill="#000" stroke="#000" stroke-width="1.3">200</text>
<rect x="1596.0" y="3312.0" width="16.0" height="4.0" fill="#000"/>
<text transform="translate(1589.1,3323.7) scale(1.15,1)" text-anchor="end" font-size="34.2" font-weight="normal" fill="#000" stroke="#000" stroke-width="1.3">150</text>
<rect x="1596.0" y="3396.5" width="16.0" height="4.0" fill="#000"/>
<text transform="translate(1589.1,3408.2) scale(1.15,1)" text-anchor="end" font-size="34.2" font-weight="normal" fill="#000" stroke="#000" stroke-width="1.3">100</text>
<rect x="1596.0" y="3479.5" width="16.0" height="4.0" fill="#000"/>
<text transform="translate(1589.1,3491.2) scale(1.15,1)" text-anchor="end" font-size="34.2" font-weight="normal" fill="#000" stroke="#000" stroke-width="1.3">50</text>
<rect x="1596.0" y="3563.0" width="16.0" height="4.0" fill="#000"/>
<text transform="translate(1589.1,3574.7) scale(1.15,1)" text-anchor="end" font-size="34.2" font-weight="normal" fill="#000" stroke="#000" stroke-width="1.3">0</text>
<rect x="1747.4" y="3565.0" width="5.2" height="13.5" fill="#000"/>
<rect x="2014.9" y="3565.0" width="5.2" height="13.5" fill="#000"/>
<rect x="2287.4" y="3565.0" width="5.2" height="13.5" fill="#000"/>
<text transform="scale(1.170,1)" x="1633.82 1659.61 1685.40 1711.19" y="3235.1" font-size="51.1" font-weight="bold" fill="#111">****</text>
<text transform="scale(1.170,1)" x="1721.03 1746.96 1772.89 1798.83" y="3189.1" font-size="51.1" font-weight="bold" fill="#111">****</text>
<rect x="1682.5" y="3816.5" width="32.5" height="7.0" fill="#000"/>
<rect x="1695.2" y="3820.0" width="7.0" height="32.0" fill="#000"/>
<rect x="1665.0" y="3851.0" width="67.5" height="268.0" fill="#000"/>
<rect x="1672.5" y="3857.5" width="50.0" height="261.5" fill="#fff"/>
<rect x="1782.5" y="3790.0" width="33.5" height="7.0" fill="#000"/>
<rect x="1795.8" y="3793.5" width="7.0" height="46.5" fill="#000"/>
<rect x="1766.5" y="3839.0" width="68.5" height="280.0" fill="#000"/>
<rect x="1951.0" y="3720.0" width="33.5" height="7.0" fill="#000"/>
<rect x="1964.2" y="3723.5" width="7.0" height="37.5" fill="#000"/>
<rect x="1933.0" y="3760.0" width="68.5" height="359.0" fill="#000"/>
<rect x="1943.5" y="3763.5" width="52.0" height="355.5" fill="#fff"/>
<rect x="2053.0" y="3705.5" width="33.0" height="7.0" fill="#000"/>
<rect x="2066.0" y="3709.0" width="7.0" height="22.0" fill="#000"/>
<rect x="2035.0" y="3730.0" width="68.0" height="389.0" fill="#000"/>
<rect x="2222.0" y="3879.0" width="33.0" height="7.0" fill="#000"/>
<rect x="2235.0" y="3882.5" width="7.0" height="27.0" fill="#000"/>
<rect x="2205.0" y="3908.5" width="68.5" height="210.5" fill="#000"/>
<rect x="2212.0" y="3915.0" width="51.5" height="204.0" fill="#fff"/>
<rect x="2322.0" y="3879.0" width="35.0" height="7.0" fill="#000"/>
<rect x="2336.0" y="3882.5" width="7.0" height="33.5" fill="#000"/>
<rect x="2307.0" y="3915.0" width="68.5" height="204.0" fill="#000"/>
<rect x="1609.8" y="3679.0" width="4.5" height="442.0" fill="#000"/>
<rect x="1596.0" y="4117.0" width="830.0" height="4.0" fill="#000"/>
<rect x="1596.0" y="3679.0" width="16.0" height="4.0" fill="#000"/>
<text transform="translate(1589.1,3690.7) scale(1.15,1)" text-anchor="end" font-size="34.2" font-weight="normal" fill="#000" stroke="#000" stroke-width="1.3">150</text>
<rect x="1596.0" y="3828.0" width="16.0" height="4.0" fill="#000"/>
<text transform="translate(1589.1,3839.7) scale(1.15,1)" text-anchor="end" font-size="34.2" font-weight="normal" fill="#000" stroke="#000" stroke-width="1.3">100</text>
<rect x="1596.0" y="3973.0" width="16.0" height="4.0" fill="#000"/>
<text transform="translate(1589.1,3984.7) scale(1.15,1)" text-anchor="end" font-size="34.2" font-weight="normal" fill="#000" stroke="#000" stroke-width="1.3">50</text>
<rect x="1596.0" y="4117.0" width="16.0" height="4.0" fill="#000"/>
<text transform="translate(1589.1,4128.7) scale(1.15,1)" text-anchor="end" font-size="34.2" font-weight="normal" fill="#000" stroke="#000" stroke-width="1.3">0</text>
<rect x="1746.9" y="4119.0" width="5.2" height="13.5" fill="#000"/>
<rect x="2014.9" y="4119.0" width="5.2" height="13.5" fill="#000"/>
<rect x="2287.4" y="4119.0" width="5.2" height="13.5" fill="#000"/>
<text transform="translate(582.2,4182.3) rotate(-45)" text-anchor="end" font-size="75" word-spacing="0" fill="#111">PBS</text>
<text transform="translate(843.2,4175.3) rotate(-45)" text-anchor="end" font-size="75" word-spacing="0" fill="#111">9 dpi</text>
<text transform="translate(1136.2,4155.8) rotate(-45)" text-anchor="end" font-size="75" word-spacing="-5" fill="#111">12 dpi</text>
<text transform="translate(1744.7,4171.3) rotate(-45)" text-anchor="end" font-size="75" word-spacing="0" fill="#111">PBS</text>
<text transform="translate(2031.2,4165.3) rotate(-45)" text-anchor="end" font-size="75" word-spacing="0" fill="#111">9 dpi</text>
<text transform="translate(2311.2,4147.3) rotate(-45)" text-anchor="end" font-size="75" word-spacing="-5" fill="#111">12 dpi</text>
</g></svg></body></html>
